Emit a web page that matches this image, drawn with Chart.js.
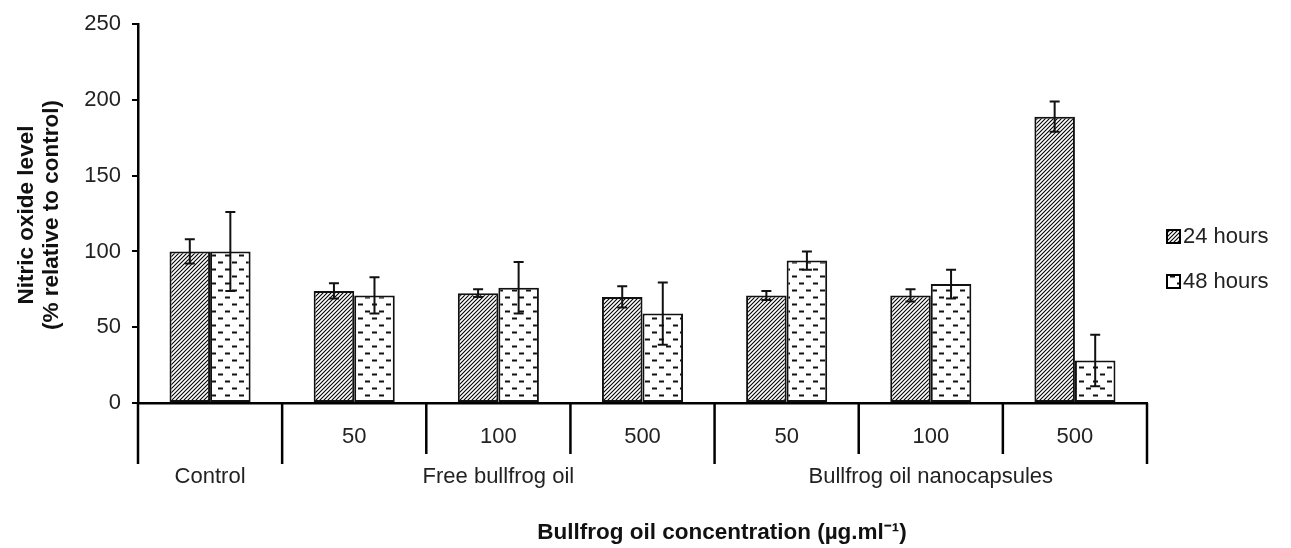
<!DOCTYPE html>
<html>
<head>
<meta charset="utf-8">
<script src="https://cdn.jsdelivr.net/npm/chart.js@4/dist/chart.umd.min.js"></script>
<style>
  html, body { margin: 0; padding: 0; background: #fff; }
  #wrap { width: 1291px; height: 548px; }
</style>
</head>
<body>
<div id="wrap"><canvas id="chart" width="1291" height="548"></canvas></div>
<script>
// values
const categories = ["Control", "Free 50", "Free 100", "Free 500", "Nano 50", "Nano 100", "Nano 500"];
const doseLabels = ["", "50", "100", "500", "50", "100", "500"];
const groupLabels = ["Control", "Free bullfrog oil", "Bullfrog oil nanocapsules"];
const groupSpans = [[0, 0], [1, 3], [4, 6]];
const hours24 = [100, 74, 72.5, 70, 71, 71, 189];
const hours24Err = [8, 5, 2.5, 7, 3, 4, 10];
const hours48 = [100, 71, 76, 59, 94, 78.5, 28];
const hours48Err = [26, 12, 17, 20.5, 6, 9.5, 17];
const yTicks = [0, 50, 100, 150, 200, 250];

const FONT = "'Liberation Sans', Arial, sans-serif";
const canvas = document.getElementById("chart");
const ctx = canvas.getContext("2d");

// diagonal hatch for 24 hours
function hatchPattern() {
  const c = document.createElement("canvas");
  c.width = 4; c.height = 4;
  const g = c.getContext("2d");
  g.fillStyle = "#fff";
  g.fillRect(0, 0, 4, 4);
  g.strokeStyle = "#000";
  g.lineWidth = 1.1;
  g.beginPath();
  g.moveTo(-1, 5); g.lineTo(5, -1);
  g.moveTo(-1, 1); g.lineTo(1, -1);
  g.moveTo(3, 5); g.lineTo(5, 3);
  g.stroke();
  return ctx.createPattern(c, "repeat");
}

// short dashes for 48 hours
function dashPattern() {
  const c = document.createElement("canvas");
  c.width = 14; c.height = 14;
  const g = c.getContext("2d");
  g.fillStyle = "#fff";
  g.fillRect(0, 0, 14, 14);
  g.strokeStyle = "#111";
  g.lineWidth = 2;
  g.beginPath();
  g.moveTo(1, 3.5); g.lineTo(6, 3.5);
  g.moveTo(8, 10.5); g.lineTo(13, 10.5);
  g.stroke();
  return ctx.createPattern(c, "repeat");
}

const pat24 = hatchPattern();
const pat48 = dashPattern();
const errors = [hours24Err, hours48Err];

const errorBars = {
  id: "errorBars",
  afterDatasetsDraw(chart) {
    const y = chart.scales.y;
    const c = chart.ctx;
    c.save();
    c.strokeStyle = "#111";
    c.lineWidth = 2;
    chart.data.datasets.forEach((ds, di) => {
      chart.getDatasetMeta(di).data.forEach((bar, i) => {
        const v = ds.data[i], e = errors[di][i];
        const top = y.getPixelForValue(v + e);
        const bot = y.getPixelForValue(v - e);
        c.beginPath();
        c.moveTo(bar.x, top); c.lineTo(bar.x, bot);
        c.moveTo(bar.x - 5, top); c.lineTo(bar.x + 5, top);
        c.moveTo(bar.x - 5, bot); c.lineTo(bar.x + 5, bot);
        c.stroke();
      });
    });
    c.restore();
  }
};

const decorations = {
  id: "decorations",
  afterDraw(chart) {
    const x = chart.scales.x;
    const area = chart.chartArea;
    const c = chart.ctx;
    const half = (x.getPixelForValue(1) - x.getPixelForValue(0)) / 2;
    const base = area.bottom;
    c.save();
    c.strokeStyle = "#000";
    c.lineWidth = 2.5;
    // separators under the axis
    const longAt = new Set([0, 1, 4]);
    for (let i = 0; i <= categories.length; i++) {
      const px = i < categories.length ? x.getPixelForValue(i) - half : x.getPixelForValue(i - 1) + half;
      const len = (longAt.has(i) || i === categories.length) ? 61 : 51;
      c.beginPath();
      c.moveTo(px, base); c.lineTo(px, base + len);
      c.stroke();
    }
    c.fillStyle = "#222";
    c.font = "22px " + FONT;
    c.textAlign = "center";
    c.textBaseline = "middle";
    doseLabels.forEach((t, i) => c.fillText(t, x.getPixelForValue(i), base + 34));
    groupLabels.forEach((t, g) => {
      const a = x.getPixelForValue(groupSpans[g][0]) - half;
      const b = x.getPixelForValue(groupSpans[g][1]) + half;
      c.fillText(t, (a + b) / 2, base + 74);
    });
    // axis titles
    c.fillStyle = "#111";
    c.font = "bold 22.5px " + FONT;
    c.fillText("Bullfrog oil concentration (\u00b5g.ml\u207b\u00b9)", 722, 533);
    c.save();
    c.translate(40, 215);
    c.rotate(-Math.PI / 2);
    c.fillText("Nitric oxide level", 0, -13);
    c.fillText("(% relative to control)", 0, 12);
    c.restore();
    // legend
    const items = [["24 hours", pat24, 237], ["48 hours", pat48, 282]];
    c.font = "22px " + FONT;
    c.textAlign = "left";
    items.forEach(([label, pat, cy]) => {
      c.fillStyle = pat;
      c.fillRect(1167, cy - 7, 13, 13);
      c.lineWidth = 2;
      c.strokeRect(1167, cy - 7, 13, 13);
      c.fillStyle = "#222";
      c.fillText(label, 1183, cy);
    });
    c.restore();
  }
};

new Chart(ctx, {
  type: "bar",
  data: {
    labels: categories,
    datasets: [
      {
        label: "24 hours",
        data: hours24,
        backgroundColor: pat24,
        borderColor: "#111",
        borderWidth: 2,
        borderSkipped: false,
      },
      {
        label: "48 hours",
        data: hours48,
        backgroundColor: pat48,
        borderColor: "#111",
        borderWidth: 2,
        borderSkipped: false,
      },
    ],
  },
  options: {
    responsive: false,
    animation: false,
    layout: { padding: { top: 23, right: 144, left: 0, bottom: 0 } },
    plugins: { legend: { display: false }, tooltip: { enabled: false } },
    datasets: { bar: { barPercentage: 1, categoryPercentage: 0.5625 } },
    scales: {
      x: {
        ticks: { display: false },
        grid: { display: false },
        border: { color: "#000", width: 2.5 },
        afterFit: (s) => { s.height = 145; },
      },
      y: {
        min: 0,
        max: 250,
        afterBuildTicks: (s) => { s.ticks = yTicks.map((v) => ({ value: v })); },
        ticks: { color: "#222", font: { family: FONT, size: 22 }, padding: 11 },
        grid: { drawOnChartArea: false, drawTicks: true, tickLength: 6, color: "#000", lineWidth: 2 },
        border: { color: "#000", width: 2.5 },
        afterFit: (s) => { s.width = 138; },
      },
    },
  },
  plugins: [errorBars, decorations],
});
</script>
</body>
</html>
